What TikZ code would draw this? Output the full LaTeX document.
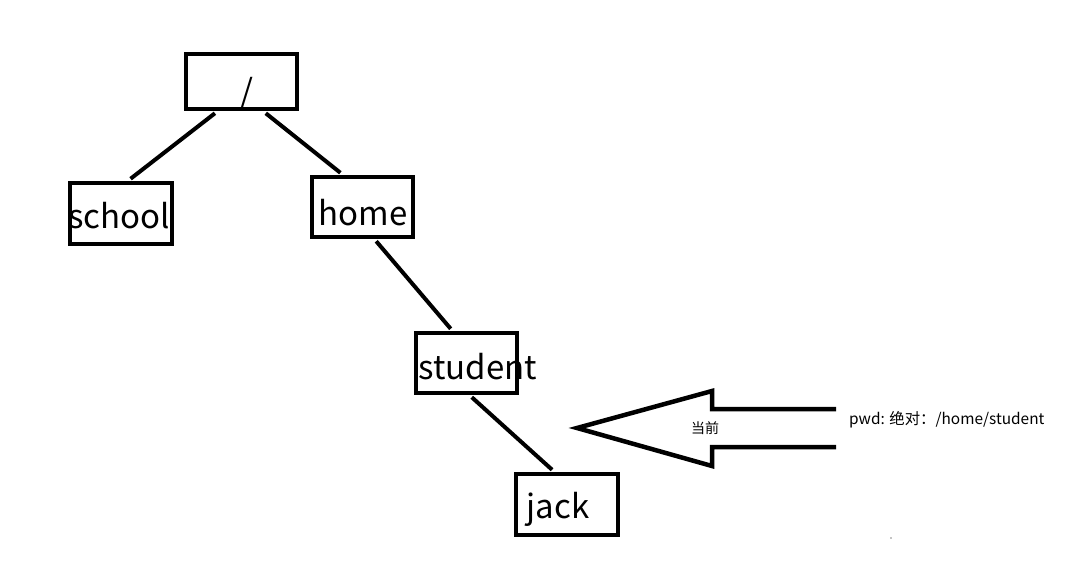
\documentclass[tikz,border=0pt]{standalone}
\usepackage{fontspec}
\setmainfont{Noto Sans CJK SC}
\usetikzlibrary{calc}
\begin{document}
\begin{tikzpicture}[x=1pt,y=-1pt,
  box/.style={draw=black,line width=4.5pt,inner sep=0pt,fill=none},
  big/.style={font=\fontsize{33}{36}\selectfont,inner sep=0pt},
  edge/.style={line width=4pt},
  small/.style={font=\fontsize{14}{16}\selectfont,inner sep=0pt}]
\useasboundingbox[fill=white] (0,0) rectangle (1075,570);
% boxes
\node[box,minimum width=111pt,minimum height=55pt] (root) at (241.5,81.5) {};
\node[big] (rootl) at (247,93) {/};
\node[box,minimum width=102pt,minimum height=61pt] (school) at (121,213.5) {};
\node[big] (schooll) at (119,216) {school};
\node[box,minimum width=101pt,minimum height=60pt] (home) at (362.5,207) {};
\node[big] (homel) at (363,213) {home};
\node[box,minimum width=101pt,minimum height=60pt] (student) at (466.5,363) {};
\node[big] (studentl) at (478,367) {student};
\node[box,minimum width=102pt,minimum height=61pt] (jack) at (567,504.5) {};
\node[big] (jackl) at (558,509) {jack};
% edges
\draw[edge] ($(root.south west)!0.27!(root.south east)+(0,2)$) -- ($(school.north west)!0.59!(school.north east)+(0,-2)$);
\draw[edge] ($(root.south west)!0.71!(root.south east)+(0,2)$) -- ($(home.north west)!0.29!(home.north east)+(0,-2)$);
\draw[edge] ($(home.south west)!0.63!(home.south east)+(0,2)$) -- ($(student.north west)!0.35!(student.north east)+(0,-2)$);
\draw[edge] ($(student.south west)!0.55!(student.south east)+(0,2)$) -- ($(jack.north west)!0.36!(jack.north east)+(0,-2)$);
% arrow
\coordinate (tip) at (577,428);
\coordinate (hu) at (712,391);
\coordinate (hl) at (712,466);
\coordinate (su) at (712,409);
\coordinate (sl) at (712,447);
\coordinate (eu) at (836,409);
\coordinate (el) at (836,447);
\draw[line width=4.5pt,line join=miter] (eu) -- (su) -- (hu) -- (tip) -- (hl) -- (sl) -- (el);
\node[small] (cur) at (705,428.5) {当前};
\node[font=\fontsize{15.4}{18}\selectfont,inner sep=0pt,anchor=west] (pwd) at (849,420) {pwd: 绝对：/home/student};
\fill (891,538) circle (0.7pt);
\end{tikzpicture}
\end{document}
